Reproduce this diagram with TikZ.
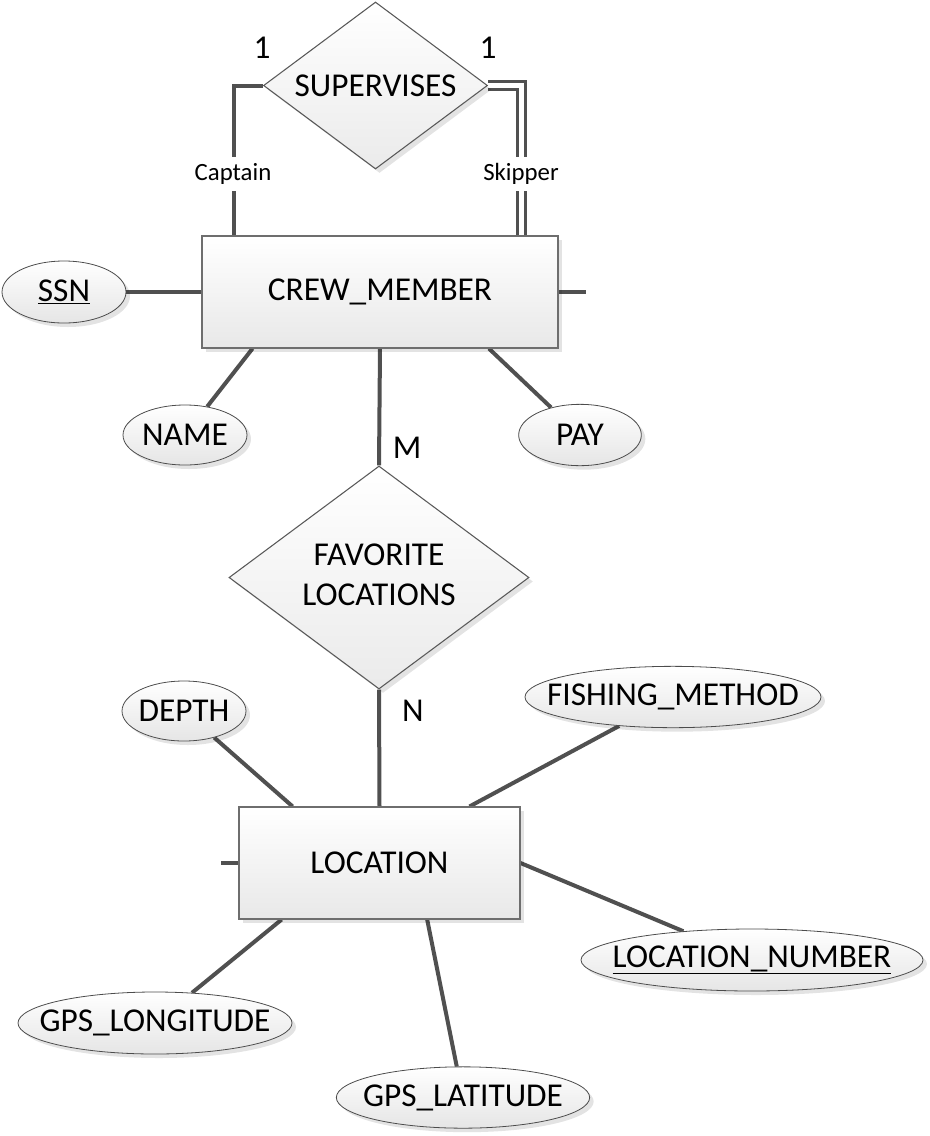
\documentclass[tikz,border=0pt]{standalone}
\usepackage{fontspec}
\setmainfont{Carlito}
\usetikzlibrary{shapes.geometric,shadows,calc}
\pgfdeclarelayer{bg}
\pgfsetlayers{bg,main}
\definecolor{linec}{HTML}{505050}
\definecolor{bordc}{HTML}{6E6E6E}
\newcommand{\ctext}[1]{\makebox[0pt]{#1}}
\begin{document}
\begin{tikzpicture}[x=0.75pt,y=-0.75pt,
  mainfont/.style={font=\fontsize{25}{29.5}\selectfont},
  shad/.style={drop shadow={shadow xshift=3pt,shadow yshift=-3pt,fill=black,opacity=0.11}},
  entity/.style={rectangle,draw=bordc,line width=0.8pt,top color=white,bottom color=black!9,shad,inner sep=0pt,mainfont},
  rel/.style={diamond,draw=black!65,line width=0.8pt,top color=white,bottom color=black!8,shad,inner sep=0pt,mainfont},
  attr/.style={ellipse,draw=black!70,line width=0.6pt,top color=white,bottom color=black!10,shad,inner sep=0pt,mainfont},
  card/.style={inner sep=0pt,mainfont},
  role/.style={fill=white,inner xsep=1pt,inner ysep=5pt,font=\fontsize{18.6}{22}\selectfont},
  conn/.style={draw=linec,line width=3pt}]
\useasboundingbox (0,0) rectangle (930,1136);

% entities and relationships
\node[entity,minimum width=267pt,minimum height=84pt] (cm) at (380,292) {CREW\_MEMBER};
\node[entity,minimum width=210.75pt,minimum height=84pt] (loc) at (379.5,863) {LOCATION};
\node[rel,minimum width=168pt,minimum height=125.25pt] (sup) at (375.5,85.5) {\ctext{SUPERVISES}};
\node[rel,minimum width=225pt,minimum height=167.25pt] (fav) at (379,577.5) {\ctext{\raisebox{-3pt}{\begin{tabular}{@{}c@{}}FAVORITE\\LOCATIONS\end{tabular}}}};

% attributes
\node[attr,minimum width=93pt,minimum height=46.5pt] (ssn) at (64,292) {\ctext{\underline{SSN}}};
\node[attr,minimum width=93pt,minimum height=45pt] (name) at (185,435) {\ctext{NAME}};
\node[attr,minimum width=92pt,minimum height=46pt] (pay) at (580,435) {\ctext{PAY}};
\node[attr,minimum width=93pt,minimum height=45pt] (depth) at (184,711) {\ctext{DEPTH}};
\node[attr,minimum width=222pt,minimum height=46pt] (fish) at (673,697) {\ctext{FISHING\_METHOD}};
\node[attr,minimum width=256.5pt,minimum height=46.5pt] (locnum) at (752,960) {\ctext{\underline{LOCATION\_NUMBER}}};
\node[attr,minimum width=205.5pt,minimum height=46.5pt] (gpslong) at (155,1023) {\ctext{GPS\_LONGITUDE}};
\node[attr,minimum width=190pt,minimum height=46pt] (gpslat) at (463,1097.5) {\ctext{GPS\_LATITUDE}};

% cardinalities
\node[card] (one1) at (262,48) {1};
\node[card] (one2) at (488,48) {1};
\node[card] (mlab) at (407,448) {M};
\node[card] (nlab) at (413,711) {N};

% connector end points
\coordinate (capb) at ($(cm.north west)!0.0899!(cm.north east)$);
\coordinate (skb) at ($(cm.north west)!0.896!(cm.north east)$);
\coordinate (cmstub) at ([xshift=20.25pt]cm.east);
\coordinate (locstub) at ([xshift=-12.75pt]loc.west);
\coordinate (nameb) at ($(cm.south west)!0.143!(cm.south east)$);
\coordinate (payb) at ($(cm.south west)!0.805!(cm.south east)$);
\coordinate (deptht) at ($(loc.north west)!0.192!(loc.north east)$);
\coordinate (fisht) at ($(loc.north west)!0.819!(loc.north east)$);
\coordinate (longb) at ($(loc.south west)!0.153!(loc.south east)$);
\coordinate (latb) at ($(loc.south west)!0.669!(loc.south east)$);

\begin{pgfonlayer}{bg}
\draw[conn] (sup.west) -| (capb);
\draw[draw=linec,double=white,double distance=3.75pt,line width=2.25pt] (sup.east) -| (skb);
\draw[conn] (ssn.east) -- (cm.west);
\draw[conn] (cm.east) -- (cmstub);
\draw[conn] (nameb) -- (name);
\draw[conn] (payb) -- (pay);
\draw[conn] (cm.south) -- (fav.north);
\draw[conn] (fav.south) -- (loc.north);
\draw[conn] (deptht) -- (depth);
\draw[conn] (fisht) -- (fish);
\draw[conn] (loc.east) -- (locnum);
\draw[conn] (longb) -- (gpslong);
\draw[conn] (latb) -- (gpslat);
\draw[conn] (loc.west) -- (locstub);
\end{pgfonlayer}

% role labels
\node[role] (capl) at (233,174) {Captain};
\node[role] (skl) at (521,174) {Skipper};
\end{tikzpicture}
\end{document}
